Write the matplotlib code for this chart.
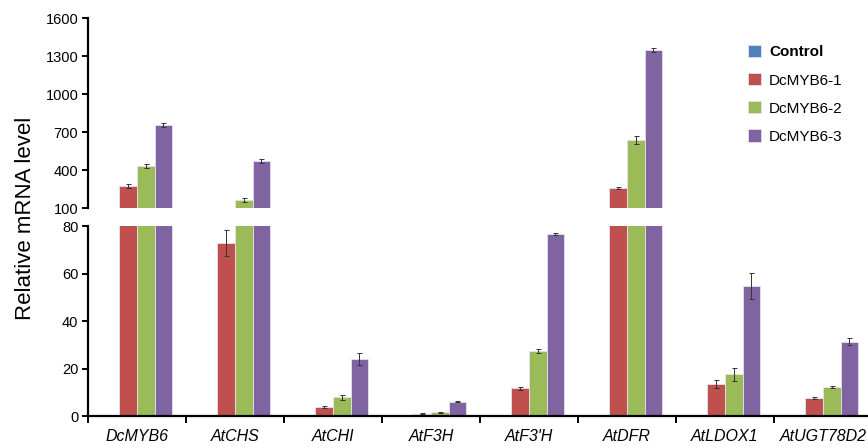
import matplotlib.pyplot as plt
import numpy as np

plt.rcParams['font.family'] = ['Liberation Sans', 'DejaVu Sans']

# Data
genes = ['DcMYB6', 'AtCHS', 'AtCHI', 'AtF3H', "AtF3'H", 'AtDFR', 'AtLDOX1', 'AtUGT78D2']
series = ['Control', 'DcMYB6-1', 'DcMYB6-2', 'DcMYB6-3']
control = [0, 0, 0, 0, 0, 0, 0, 0]
line1 = [272, 73, 3.9, 1.0, 11.6, 258, 13.5, 7.6]
line2 = [432, 163, 7.9, 1.5, 27.4, 637, 17.5, 12.1]
line3 = [755, 470, 24.0, 6.0, 76.5, 1350, 54.9, 31.2]
control_err = [0, 0, 0, 0, 0, 0, 0, 0]
line1_err = [15, 5.5, 0.5, 0.2, 0.8, 5, 1.5, 0.3]
line2_err = [15, 12, 1.0, 0.3, 1.0, 35, 2.8, 0.5]
line3_err = [15, 15, 2.5, 0.3, 0.5, 15, 5.5, 1.5]

colors = ['#4F81BD', '#C0504D', '#9BBB59', '#8064A2']
values = [control, line1, line2, line3]
errors = [control_err, line1_err, line2_err, line3_err]

fig = plt.figure(figsize=(8.68, 4.48), dpi=100)
ax_top = fig.add_axes([88 / 868, (448 - 208) / 448, 784 / 868, 190 / 448])
ax_bot = fig.add_axes([88 / 868, (448 - 416) / 448, 784 / 868, 190 / 448])

x = np.arange(len(genes)) + 0.5
w = 0.18
for ax in (ax_top, ax_bot):
    for i, (vals, errs) in enumerate(zip(values, errors)):
        pos = x + (i - 1.5) * w
        ax.bar(pos, vals, width=w, color=colors[i], edgecolor='#e6e0f0', linewidth=0.6,
               label=series[i], zorder=2)
        idx = [k for k, e in enumerate(errs) if e > 0]
        ax.errorbar(pos[idx], np.array(vals)[idx], yerr=np.array(errs)[idx], fmt='none',
                    ecolor='#333333', elinewidth=0.7, capsize=1.8, capthick=0.7, zorder=3)
    ax.set_xlim(0, len(genes))
    for s in ['top', 'right']:
        ax.spines[s].set_visible(False)
    ax.spines['left'].set_linewidth(1.6)
    ax.tick_params(axis='y', direction='out', length=4, width=1.4, labelsize=10.5, pad=3)

ax_top.set_ylim(100, 1600)
ax_top.set_yticks([100, 400, 700, 1000, 1300, 1600])
ax_top.spines['bottom'].set_visible(False)
ax_top.set_xticks([])

ax_bot.set_ylim(0, 80)
ax_bot.set_yticks([0, 20, 40, 60, 80])
ax_bot.spines['bottom'].set_linewidth(1.6)
ax_bot.set_xticks(np.arange(len(genes) + 1))
ax_bot.set_xticklabels([])
ax_bot.set_xticks(x, minor=True)
ax_bot.set_xticklabels(genes, minor=True, fontstyle='italic', fontsize=11.5)
ax_bot.tick_params(axis='x', which='major', direction='out', length=5, width=1.4)
ax_bot.tick_params(axis='x', which='minor', length=0, pad=9)

fig.text(0.029, 0.513, 'Relative mRNA level', rotation=90, va='center', ha='center', fontsize=16)

leg = ax_top.legend(loc='upper left', bbox_to_anchor=(0.824, 0.93), frameon=False,
                    fontsize=11, handlelength=0.85, handleheight=0.85, handletextpad=0.55,
                    labelspacing=0.9)
leg.get_texts()[0].set_fontweight('bold')

plt.savefig('out.png', dpi=100)
